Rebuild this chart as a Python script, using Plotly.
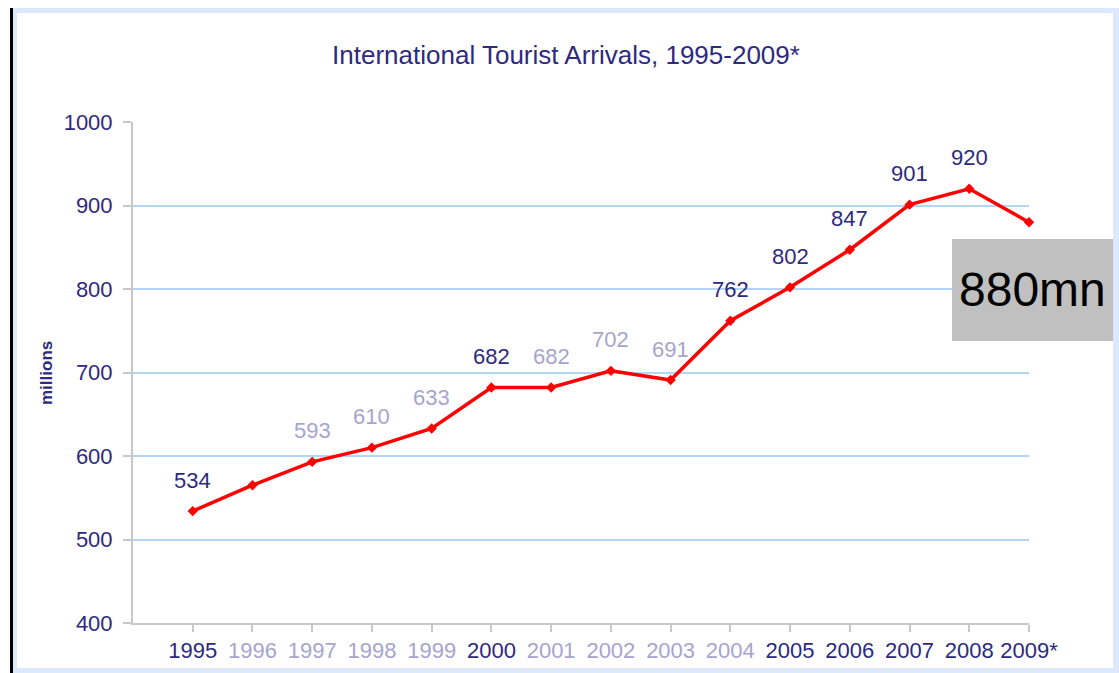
import plotly.graph_objects as go

# International tourist arrivals (millions)
years = ["1995", "1996", "1997", "1998", "1999", "2000", "2001", "2002",
         "2003", "2004", "2005", "2006", "2007", "2008", "2009*"]
arrivals = [534, 565, 593, 610, 633, 682, 682, 702, 691, 762, 802, 847, 901, 920, 880]

# Which points carry a value label, and in which shade
DARK = "#2d2a80"
LIGHT = "#a7a4cf"
label_shade = [DARK, None, LIGHT, LIGHT, LIGHT, DARK, LIGHT, LIGHT,
               LIGHT, DARK, DARK, DARK, DARK, DARK, None]
year_shade = [DARK, LIGHT, LIGHT, LIGHT, LIGHT, DARK, LIGHT, LIGHT,
              LIGHT, LIGHT, DARK, DARK, DARK, DARK, DARK]
y_ticks = [400, 500, 600, 700, 800, 900, 1000]

FONT = "Liberation Sans, Arial, sans-serif"
W, H = 1119, 673
L, R, T, B = 133, 1029, 122, 623


def px_x(p):
    return (p - L) / (R - L)


def px_y(p):
    return (B - p) / (B - T)


xs = list(range(len(years)))

fig = go.Figure()
fig.add_trace(go.Scatter(
    x=xs, y=arrivals, mode="lines+markers",
    line=dict(color="#ff0000", width=3.5),
    marker=dict(symbol="diamond", size=8, color="#ff0000"),
    cliponaxis=False, hoverinfo="skip", showlegend=False,
))

annotations = []
for x, v, c in zip(xs, arrivals, label_shade):
    if c is None:
        continue
    annotations.append(dict(
        x=x, y=v, xref="x", yref="y", text=str(v), showarrow=False,
        yshift=31, font=dict(family=FONT, size=22, color=c),
    ))

# Highlighted latest figure
annotations.append(dict(
    x=px_x(1032), y=px_y(289), xref="paper", yref="paper",
    text=f"{arrivals[-1]}mn", showarrow=False,
    xanchor="center", yanchor="middle",
    font=dict(family=FONT, size=48, color="#000000"),
))

annotations.append(dict(
    x=px_x(46), y=px_y(373), xref="paper", yref="paper",
    text="<b>millions</b>", showarrow=False, textangle=-90,
    xanchor="center", yanchor="middle",
    font=dict(family=FONT, size=17, color=DARK),
))

shapes = [
    # light blue frame
    dict(type="rect", xref="paper", yref="paper", layer="below",
         x0=px_x(13), x1=px_x(1119), y0=px_y(8), y1=px_y(673),
         fillcolor="#dce8fb", line=dict(width=0)),
    dict(type="rect", xref="paper", yref="paper", layer="below",
         x0=px_x(17), x1=px_x(1113), y0=px_y(13), y1=px_y(668),
         fillcolor="#ffffff", line=dict(width=0)),
    # dark rule on the left edge
    dict(type="rect", xref="paper", yref="paper", layer="below",
         x0=px_x(10), x1=px_x(13), y0=px_y(8), y1=px_y(673),
         fillcolor="#000000", line=dict(width=0)),
    # grey callout box
    dict(type="rect", xref="paper", yref="paper", layer="above",
         x0=px_x(952), x1=px_x(1113), y0=px_y(239), y1=px_y(341),
         fillcolor="#c0c0c0", line=dict(width=0)),
]

fig.update_layout(
    width=W, height=H,
    margin=dict(l=L, r=W - R, t=T, b=H - B, pad=0),
    paper_bgcolor="#ffffff", plot_bgcolor="#ffffff",
    font=dict(family=FONT, color=DARK),
    title=dict(
        text="International Tourist Arrivals, 1995-2009*",
        x=566 / W, xanchor="center", xref="container",
        y=1 - 55 / H, yanchor="middle", yref="container",
        font=dict(family=FONT, size=26, color=DARK),
    ),
    xaxis=dict(
        range=[-1, len(years) - 1],
        tickmode="array", tickvals=xs,
        ticktext=[f"<span style='color:{c}'>{y}</span>"
                  for y, c in zip(years, year_shade)],
        ticks="outside", ticklen=7, tickcolor="#c8c8c8", tickwidth=2,
        showline=True, linecolor="#c8c8c8", linewidth=2,
        showgrid=False, zeroline=False, automargin=False,
        tickfont=dict(family=FONT, size=22, color=DARK),
    ),
    yaxis=dict(
        range=[400, 1000], tickvals=y_ticks,
        ticks="outside", ticklen=8, tickcolor="#c8c8c8", tickwidth=2,
        ticklabelstandoff=6,
        showline=True, linecolor="#c8c8c8", linewidth=2,
        showgrid=True, gridcolor="#b3d6f7", gridwidth=2,
        zeroline=False, automargin=False,
        tickfont=dict(family=FONT, size=22, color=DARK),
    ),
    shapes=shapes,
    annotations=annotations,
)

fig.write_html("out.html")
